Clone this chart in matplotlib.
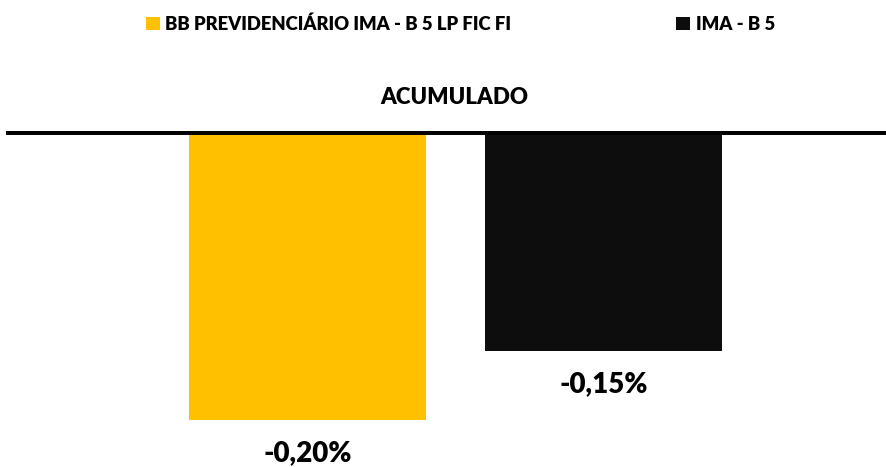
import matplotlib.pyplot as plt

categories = ["BB PREVIDENCIÁRIO IMA - B 5 LP FIC FI", "IMA - B 5"]
values = [-0.20, -0.152]
labels = ["-0,20%", "-0,15%"]
colors = ["#FFC000", "#0D0D0D"]


def main():
    plt.rcParams["font.family"] = ["Lato", "DejaVu Sans"]
    fig = plt.figure(figsize=(8.87, 4.67), dpi=100)
    ax = fig.add_axes([6 / 887, 0, 881 / 887, (467 - 131) / 467])

    x = range(len(categories))
    bars = ax.bar(x, values, width=0.80, color=colors, zorder=2)
    ax.axhline(0, color="black", lw=5, zorder=3)

    for xi, v, lab in zip(x, values, labels):
        ax.annotate(lab, (xi, v), xytext=(0, -24), textcoords="offset points",
                    ha="center", va="center", fontsize=20, fontweight="heavy")

    ax.set_xlim(-1.019, 1.958)
    ax.set_ylim(-0.2325, 0)
    ax.axis("off")

    fig.text(0.512, 1 - 97 / 467, "ACUMULADO", ha="center", va="center",
             fontsize=16, fontweight="heavy")

    fig.legend(bars, categories, loc="center", bbox_to_anchor=(0.519, 1 - 24 / 467),
               ncol=2, frameon=False, handlelength=0.75, handleheight=0.75,
               handletextpad=0.3, columnspacing=8.95,
               prop={"weight": "heavy", "size": 13.3})

    fig.savefig("out.png", dpi=100)


if __name__ == "__main__":
    main()
